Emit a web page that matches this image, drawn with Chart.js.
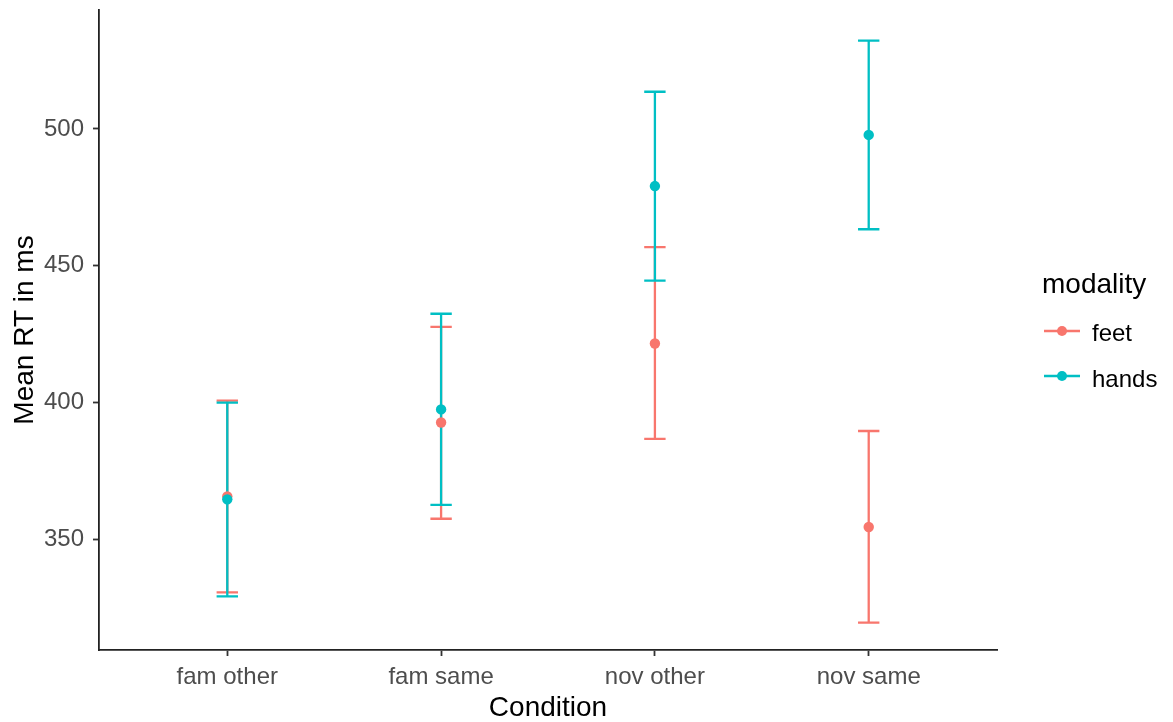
<!DOCTYPE html>
<html><head><meta charset="utf-8">
<script src="https://cdn.jsdelivr.net/npm/chart.js@4.4.1/dist/chart.umd.min.js"></script>
<style>html,body{margin:0;padding:0;background:#fff}</style>
</head><body><canvas id="c" width="1173" height="722"></canvas>
<script>
const categories = ['fam other', 'fam same', 'nov other', 'nov same'];
const seriesNames = ['feet', 'hands'];
const feetMean  = [365.6, 392.6, 421.5, 354.4];
const feetLower = [330.5, 357.4, 386.6, 319.4];
const feetUpper = [400.6, 427.6, 456.8, 389.5];
const handsMean  = [364.5, 397.4, 479.1, 497.8];
const handsLower = [329.0, 362.5, 444.5, 463.3];
const handsUpper = [399.9, 432.4, 513.6, 532.3];
const yTicks = [350, 400, 450, 500];
const legendTitle = 'modality';
const xTitle = 'Condition';
const yTitle = 'Mean RT in ms';

const colors = ['#F8766D', '#00BFC4'];
const FAMILY = '"Liberation Sans", Arial, sans-serif';

function makeData(mean, lo, hi) {
  return categories.map((c, i) => ({ x: i + 1, y: mean[i], lo: lo[i], hi: hi[i] }));
}

const errorBars = {
  id: 'errorBars',
  beforeDatasetsDraw(chart) {
    const { ctx } = chart;
    const xs = chart.scales.x, ys = chart.scales.y;
    chart.data.datasets.forEach(ds => {
      ctx.save();
      ctx.strokeStyle = ds.borderColor;
      ctx.lineWidth = 2.3;
      ds.data.forEach(p => {
        const px = xs.getPixelForValue(p.x);
        const half = xs.getPixelForValue(p.x + 0.05) - px;
        const yl = ys.getPixelForValue(p.lo);
        const yh = ys.getPixelForValue(p.hi);
        ctx.beginPath();
        ctx.moveTo(px, yl); ctx.lineTo(px, yh);
        ctx.moveTo(px - half, yl); ctx.lineTo(px + half, yl);
        ctx.moveTo(px - half, yh); ctx.lineTo(px + half, yh);
        ctx.stroke();
      });
      ctx.restore();
    });
  }
};

const customLegend = {
  id: 'customLegend',
  afterDraw(chart) {
    const { ctx } = chart;
    ctx.save();
    ctx.textBaseline = 'alphabetic';
    ctx.textAlign = 'left';
    ctx.fillStyle = '#000';
    ctx.font = '28px ' + FAMILY;
    ctx.fillText(legendTitle, 1042, 293);
    const keyY = [331, 376];
    const txtY = [341, 387];
    chart.data.datasets.forEach((ds, i) => {
      ctx.strokeStyle = ds.borderColor;
      ctx.lineWidth = 2.3;
      ctx.beginPath();
      ctx.moveTo(1044, keyY[i]); ctx.lineTo(1080, keyY[i]);
      ctx.stroke();
      ctx.fillStyle = ds.borderColor;
      ctx.beginPath();
      ctx.arc(1062, keyY[i], 5, 0, Math.PI * 2);
      ctx.fill();
      ctx.fillStyle = '#000';
      ctx.font = '24px ' + FAMILY;
      ctx.fillText(ds.label, 1092, txtY[i]);
    });
    ctx.restore();
  }
};

new Chart(document.getElementById('c'), {
  type: 'scatter',
  data: {
    datasets: [
      { label: seriesNames[0], data: makeData(feetMean, feetLower, feetUpper), order: 2,
        borderColor: colors[0], backgroundColor: colors[0], pointRadius: 5.2, pointBorderWidth: 0, showLine: false },
      { label: seriesNames[1], data: makeData(handsMean, handsLower, handsUpper), order: 1,
        borderColor: colors[1], backgroundColor: colors[1], pointRadius: 5.2, pointBorderWidth: 0, showLine: false }
    ]
  },
  options: {
    responsive: false,
    animation: false,
    devicePixelRatio: 1,
    layout: { padding: { top: 10, right: 176, bottom: 0, left: 0 } },
    plugins: { legend: { display: false }, tooltip: { enabled: false } },
    scales: {
      x: {
        type: 'linear', min: 0.4, max: 4.6,
        afterFit(s) { s.height = 72; },
        afterBuildTicks(s) { s.ticks = categories.map((c, i) => ({ value: i + 1 })); },
        ticks: {
          callback: v => categories[Math.round(v) - 1] || '',
          color: '#4D4D4D', font: { family: FAMILY, size: 24 }, padding: 7,
          maxRotation: 0, autoSkip: false
        },
        grid: { drawOnChartArea: false, drawTicks: true, tickLength: 6, tickColor: '#333', tickWidth: 1.8 },
        border: { display: true, color: '#222', width: 1.8 },
        title: { display: true, text: xTitle, color: '#000', font: { family: FAMILY, size: 28, lineHeight: 1 }, padding: 0 }
      },
      y: {
        type: 'linear', min: 309.4, max: 543.5,
        afterFit(s) { s.width = 99; s.paddingTop = 0; s.paddingBottom = 0; },
        afterBuildTicks(s) { s.ticks = yTicks.map(v => ({ value: v })); },
        ticks: { color: '#4D4D4D', font: { family: FAMILY, size: 24, lineHeight: 0.1 }, padding: 9 },
        grid: { drawOnChartArea: false, drawTicks: true, tickLength: 6, tickColor: '#333', tickWidth: 1.8 },
        border: { display: true, color: '#222', width: 1.8 },
        title: { display: true, text: yTitle, color: '#000', font: { family: FAMILY, size: 28, lineHeight: 1 }, padding: { top: 11, bottom: 0 } }
      }
    }
  },
  plugins: [errorBars, customLegend]
});
</script>
</body></html>
